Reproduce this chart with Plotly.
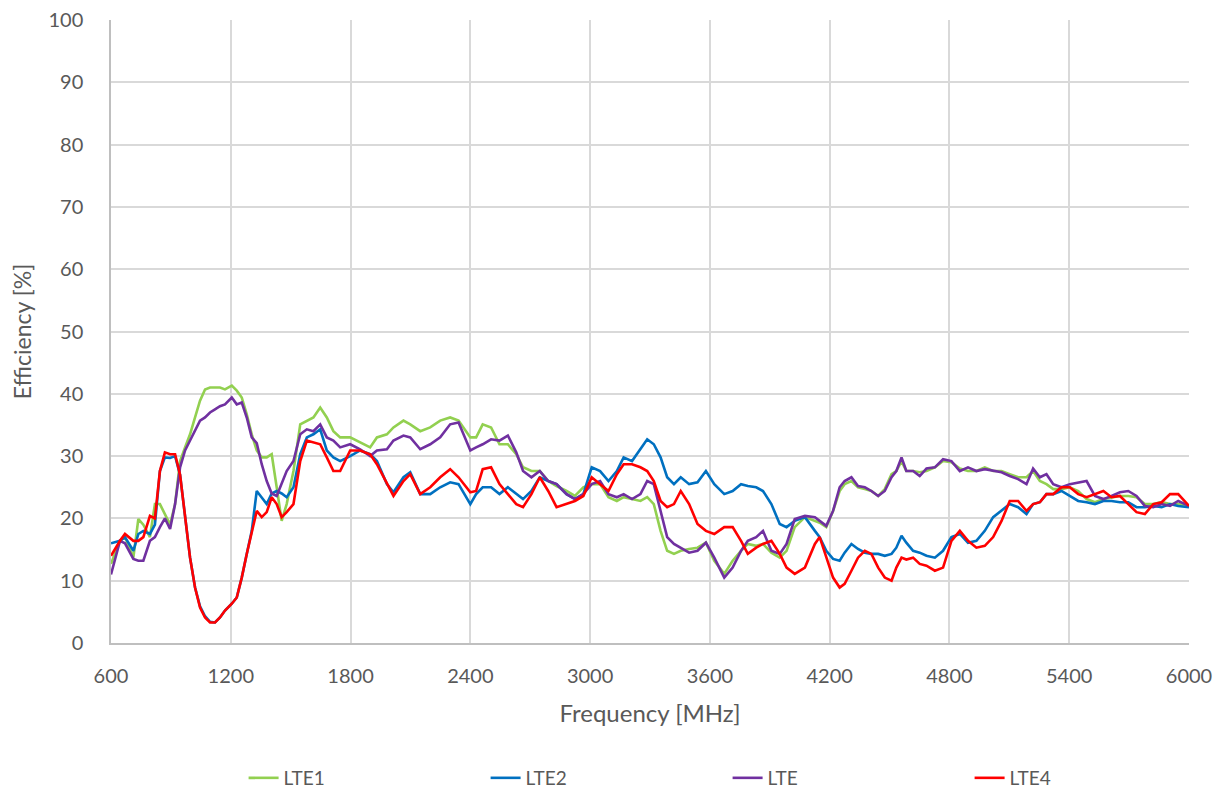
import plotly.graph_objects as go

freq = [600, 645, 670, 712, 737, 762, 795, 820, 845, 870, 896, 921, 946, 971, 996, 1021, 1046, 1071, 1096, 1121,
        1146, 1171, 1205, 1230, 1255, 1280, 1305, 1330, 1355, 1380, 1405, 1430, 1455, 1480, 1514, 1548, 1581, 1614,
        1648, 1681, 1714, 1748, 1798, 1848, 1898, 1932, 1982, 2015, 2065, 2099, 2149, 2199, 2249, 2299, 2341, 2400,
        2429, 2462, 2504, 2546, 2588, 2630, 2664, 2706, 2748, 2790, 2832, 2882, 2924, 2966, 3008, 3050, 3092, 3134,
        3168, 3210, 3252, 3286, 3319, 3353, 3386, 3420, 3454, 3496, 3538, 3580, 3622, 3672, 3714, 3756, 3790, 3832,
        3866, 3908, 3950, 3984, 4025, 4076, 4126, 4150, 4183, 4217, 4250, 4275, 4309, 4342, 4376, 4409, 4443, 4476,
        4510, 4534, 4560, 4584, 4618, 4651, 4685, 4727, 4768, 4810, 4852, 4893, 4935, 4977, 5019, 5061, 5102, 5144,
        5186, 5219, 5253, 5286, 5320, 5361, 5403, 5445, 5487, 5529, 5571, 5612, 5654, 5696, 5737, 5779, 5821, 5863,
        5905, 5946, 6000]

lte1 = [12.7, 16.4, 17, 13.7, 19.9, 19, 17, 22.3, 22.3, 20.7, 19, 22.3, 29.2, 31.4, 33.5, 36.2, 38.9, 40.7, 41, 41,
        41, 40.7, 41.3, 40.5, 39.4, 36.7, 33.5, 30.9, 29.8, 29.8, 30.3, 25, 19.6, 22.3, 27.6, 35.1, 35.7, 36.2,
        37.8, 36.2, 34, 33, 33, 32.2, 31.4, 33, 33.5, 34.6, 35.7, 35.1, 34, 34.6, 35.7, 36.2, 35.7, 33,
        33, 35.1, 34.6, 31.9, 31.9, 30.3, 28.2, 27.6, 27.6, 26, 25.2, 24.4, 23.6, 25, 25.5, 25.5, 23.4, 22.8,
        23.4, 23.1, 22.8, 23.4, 22.3, 18, 14.8, 14.3, 14.8, 15.1, 15.3, 16.1, 13.2, 11.1, 13.2, 14.8, 15.9, 15.6,
        15.9, 14.5, 13.7, 14.8, 18.6, 20.2, 19.6, 19.3, 18.6, 21.2, 24.4, 25.5, 26, 25, 24.7, 24.4, 23.6, 24.7,
        27.1, 27.6, 29.2, 27.6, 27.6, 27.4, 27.6, 28.2, 29.2, 29, 28, 27.6, 27.6, 28.2, 27.6, 27.6, 27.1, 26.6,
        26.6, 27.6, 26, 25.5, 24.7, 24.7, 25, 24.4, 23.1, 22.6, 23.1, 23.4, 23.6, 23.6, 23.4, 22.3, 22.3, 22.6,
        22.3, 22.3, 22]

lte2 = [16, 16.4, 17, 14.8, 17.5, 18, 17.5, 19, 27.6, 29.8, 29.7, 30, 27, 20.7, 13.7, 8.9, 5.9, 4.3, 3.4, 3.3,
        4.1, 5.2, 6.3, 7.3, 10.5, 14.3, 18, 24.4, 23.4, 22.3, 24, 24.4, 24, 23.4, 25, 30.3, 33, 33.5,
        34.3, 30.9, 29.8, 29.2, 30, 30.9, 30.3, 29.2, 25.5, 24.2, 26.6, 27.4, 23.9, 23.9, 25, 25.8, 25.5, 22.3,
        23.9, 25, 25, 23.9, 25, 23.9, 23.1, 24.4, 26.6, 26, 25.5, 23.9, 23.1, 23.9, 28.2, 27.6, 26, 27.6,
        29.8, 29.2, 31.1, 32.7, 31.9, 29.8, 26.6, 25.5, 26.6, 25.5, 25.8, 27.6, 25.5, 23.9, 24.4, 25.5, 25.2, 25,
        24.4, 22.3, 19.1, 18.6, 19.6, 20.2, 18, 17, 14.8, 13.5, 13.2, 14.5, 15.9, 15.1, 14.5, 14.3, 14.3, 14,
        14.3, 15.3, 17.2, 16.1, 14.8, 14.5, 14, 13.7, 14.8, 17, 17.5, 16.1, 16.4, 18, 20.2, 21.2, 22.3, 21.8,
        20.7, 22.3, 22.6, 23.9, 23.9, 24.4, 23.6, 22.8, 22.6, 22.3, 22.8, 22.8, 22.6, 22.6, 21.8, 21.8, 22, 21.8,
        22.3, 22, 21.8]

lte = [11, 16.4, 16, 13.5, 13.2, 13.2, 16.4, 17, 18.6, 20, 18.3, 22.3, 28.2, 30.9, 32.5, 34, 35.7, 36.2, 37, 37.5,
       38, 38.3, 39.4, 38.3, 38.6, 36.2, 33, 32.1, 28.7, 26, 24, 23.6, 25.5, 27.6, 29.2, 33.5, 34.3, 34,
       35.1, 33, 32.5, 31.4, 31.9, 31.1, 30, 30.9, 31.1, 32.5, 33.3, 33, 31.1, 31.9, 33, 35.1, 35.4, 30.9,
       31.4, 31.9, 32.7, 32.5, 33.3, 30.6, 27.6, 26.6, 27.6, 26, 25.5, 23.9, 23.1, 23.9, 25.5, 26, 23.9, 23.4,
       23.9, 23.1, 23.9, 26, 25.5, 21.2, 17, 15.9, 15.3, 14.5, 14.8, 16.1, 13.7, 10.5, 12.1, 14.8, 16.4, 17,
       18, 14.8, 14.3, 15.9, 19.9, 20.4, 20.2, 19.6, 18.8, 21.2, 25, 26, 26.6, 25.2, 25, 24.4, 23.6, 24.4,
       26.6, 27.6, 29.8, 27.6, 27.6, 26.8, 28, 28.2, 29.5, 29.2, 27.6, 28.2, 27.6, 27.9, 27.6, 27.4, 26.8, 26.3,
       25.5, 28, 26.6, 27.1, 25.5, 25, 25.5, 25.8, 26, 23.6, 23.1, 23.6, 24.2, 24.4, 23.6, 22, 21.8, 22.3,
       22, 22.8, 22]

lte4 = [14, 16.4, 17.5, 16.4, 16.4, 17, 20.4, 20, 27.6, 30.6, 30.3, 30.3, 27, 20.7, 13.7, 8.9, 5.7, 4.1, 3.3, 3.3,
        4.1, 5.2, 6.3, 7.3, 10.5, 14.3, 18, 21.2, 20.2, 21, 23.4, 22.3, 20.2, 21, 22.3, 29.2, 32.5, 32.2,
        31.9, 29.8, 27.6, 27.6, 30.9, 30.9, 30.3, 28.7, 25.5, 23.6, 26, 27.1, 23.9, 25, 26.6, 27.9, 26.6, 24.2,
        24.4, 27.9, 28.2, 25.5, 23.9, 22.3, 21.8, 23.9, 26.6, 24.4, 21.8, 22.3, 22.8, 23.6, 26.6, 25.5, 24.4, 27.1,
        28.7, 28.7, 28.2, 27.6, 26, 22.8, 21.8, 22.3, 24.4, 22.3, 19.1, 18, 17.5, 18.6, 18.6, 16.4, 14.3, 15.3,
        15.9, 16.4, 14.3, 12.1, 11.1, 12.1, 15.9, 17, 13.7, 10.5, 8.9, 9.5, 11.6, 13.7, 14.8, 14.3, 12.1, 10.5,
        10, 12.1, 13.7, 13.4, 13.7, 12.7, 12.4, 11.6, 12.1, 16.4, 18, 16.4, 15.3, 15.6, 17, 19.6, 22.8, 22.8,
        21.2, 22.3, 22.6, 23.9, 23.9, 25, 25, 23.9, 23.4, 23.9, 24.4, 23.4, 23.6, 22.3, 21, 20.7, 22.3, 22.6,
        23.9, 23.9, 22]

x_ticks = [600, 1200, 1800, 2400, 3000, 3600, 4200, 4800, 5400, 6000]
y_ticks = [0, 10, 20, 30, 40, 50, 60, 70, 80, 90, 100]

series = [("LTE1", lte1, "#92d050"), ("LTE2", lte2, "#0070c0"),
          ("LTE", lte, "#7030a0"), ("LTE4", lte4, "#ff0000")]

fig = go.Figure()
for name, vals, col in series:
    fig.add_trace(go.Scatter(x=freq, y=vals, mode="lines", name=name,
                             line=dict(color=col, width=2.6)))

fnt = "Lato, Carlito, 'Liberation Sans', sans-serif"
fig.update_layout(
    width=1226, height=792,
    paper_bgcolor="white", plot_bgcolor="white",
    margin=dict(l=103, r=45, t=12, b=157),
    font=dict(family=fnt, size=20, color="#595959"),
    showlegend=True,
    legend=dict(orientation="h", x=0.123, xanchor="left",
                yref="container", y=0.0278, yanchor="middle",
                entrywidth=197, entrywidthmode="pixels",
                font=dict(size=19, color="#595959")),
)
fig.update_xaxes(range=[600, 6000], tickvals=x_ticks, ticktext=[str(v) for v in x_ticks],
                 showgrid=True, gridcolor="#d9d9d9", gridwidth=1.5,
                 showline=True, linecolor="#bfbfbf", linewidth=1.5,
                 zeroline=False, ticks="", ticklabelstandoff=14, automargin=False,
                 ticklabeloverflow="allow",
                 tickfont=dict(size=20, color="#595959"),
                 title=dict(text="Frequency [MHz]", font=dict(size=24, color="#595959"), standoff=19))
fig.update_yaxes(range=[0, 100], tickvals=y_ticks,
                 showgrid=True, gridcolor="#d9d9d9", gridwidth=1.5,
                 showline=True, linecolor="#bfbfbf", linewidth=1.5,
                 zeroline=False, ticks="", ticklabelstandoff=22, automargin=False,
                 ticklabeloverflow="allow",
                 tickfont=dict(size=20, color="#595959"),
                 title=dict(text="Efficiency [%]", font=dict(size=23, color="#595959"), standoff=12))

fig.write_html("out.html")
